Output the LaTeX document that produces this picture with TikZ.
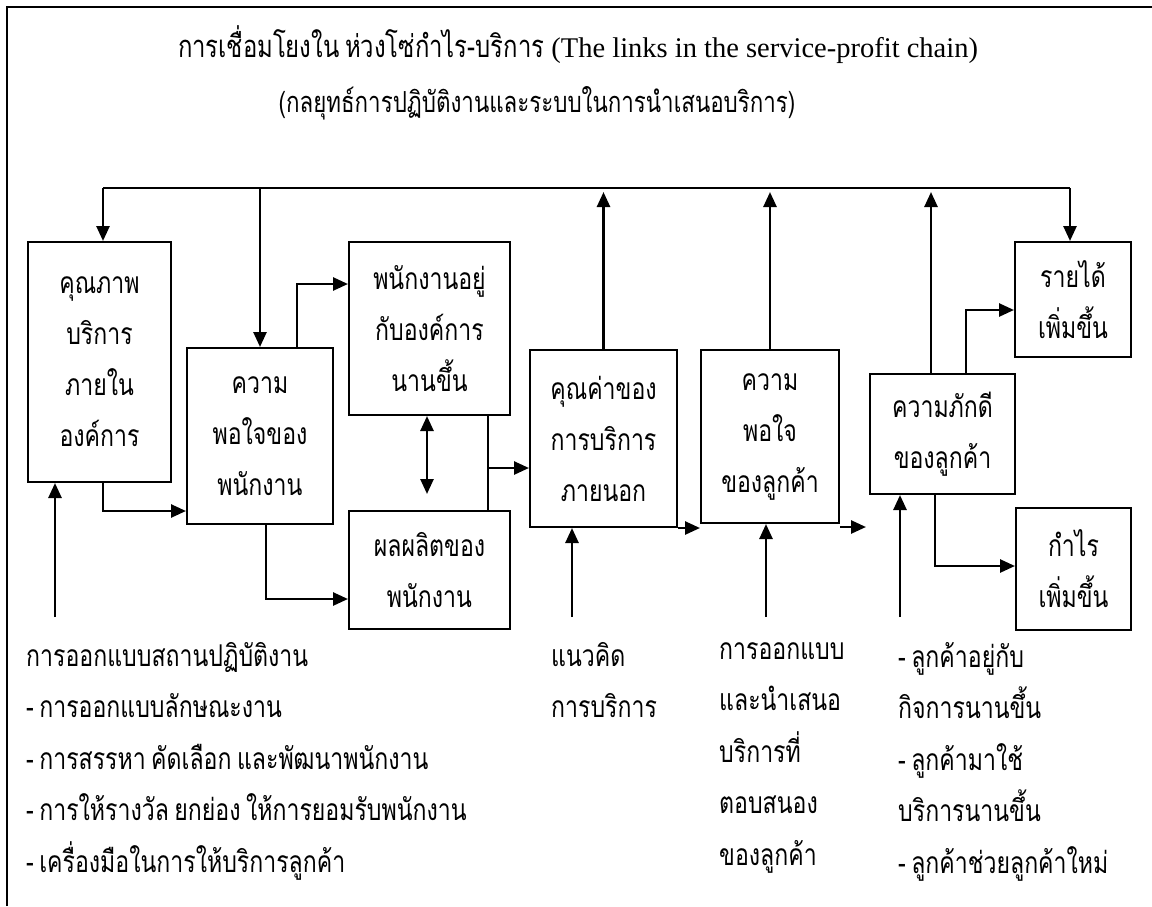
\documentclass[tikz,border=0pt]{standalone}
\usepackage{fontspec}
\setmainfont{Liberation Serif}
\newfontfamily\thaifont[Script=Thai,FakeStretch=0.77,WordSpace=0.7]{Loma}
\usetikzlibrary{arrows.meta}

\begin{document}
\begin{tikzpicture}[x=1pt,y=-1pt,>={Triangle[length=15pt,width=13pt]},
                    every node/.style={inner sep=0pt},
                    box/.style={draw,line width=2pt,align=center,
                                font=\thaifont\fontsize{30}{51}\selectfont},
                    note/.style={anchor=north west,align=left,
                                 font=\thaifont\fontsize{30}{51.5}\selectfont},
                    arr/.style={->,line width=2.6pt}]
  \useasboundingbox (0,0) rectangle (1152,906);
  \draw[line width=2pt] (7,906) -- (7,7) -- (1152,7);
  % titles
  \node[font=\fontsize{28.5}{32}\selectfont] (title) at (578,45)
      {{\thaifont\fontsize{31}{32}\selectfont การเชื่อมโยงใน ห่วงโซ่กำไร-บริการ} (The links in the service-profit chain)};
  \node[font=\thaifont\fontsize{29}{32}\selectfont] (sub) at (537,103)
      {(กลยุทธ์การปฏิบัติงานและระบบในการนำเสนอบริการ)};
  % boxes
  \node[box,minimum width=143pt,minimum height=240pt] (q) at (99.5,362) {คุณภาพ\\บริการ\\ภายใน\\องค์การ};
  \node[box,minimum width=146pt,minimum height=176pt] (es) at (260,436) {ความ\\พอใจของ\\พนักงาน};
  \node[box,minimum width=161pt,minimum height=173pt] (ret) at (429.5,328.5) {พนักงานอยู่\\กับองค์การ\\นานขึ้น};
  \node[box,minimum width=161pt,minimum height=118pt] (prod) at (429.5,570) {ผลผลิตของ\\พนักงาน};
  \node[box,minimum width=147pt,minimum height=177pt] (val) at (603.5,438.5) {คุณค่าของ\\การบริการ\\ภายนอก};
  \node[box,minimum width=138pt,minimum height=173pt] (cs) at (770,436.5) {ความ\\พอใจ\\ของลูกค้า};
  \node[box,minimum width=145pt,minimum height=120pt] (loy) at (942.5,434) {ความภักดี\\ของลูกค้า};
  \node[box,minimum width=116pt,minimum height=115pt] (rev) at (1073,299.5) {รายได้\\เพิ่มขึ้น};
  \node[box,minimum width=115pt,minimum height=122pt] (prof) at (1073.5,569) {กำไร\\เพิ่มขึ้น};
  % feedback line on top
  \coordinate (tl) at (103,188);
  \coordinate (tr) at (1070,188);
  \draw[line width=2.6pt] (tl) -- (tr);
  \draw[arr] (tl) -- (tl |- q.north);
  \draw[arr] (es.north |- tl) -- (es.north);
  \draw[arr,shorten >=4pt] (val.north) -- (val.north |- tl);
  \draw[arr,shorten >=4pt] (cs.north) -- (cs.north |- tl);
  \draw[arr,shorten >=4pt] ([xshift=-11.5pt]loy.north) -- ([xshift=-11.5pt]loy.north |- tl);
  \draw[arr] (tr) -- (tr |- rev.north);
  % links between boxes
  \draw[arr] (q.south -| tl) |- ([yshift=-75pt]es.west);
  \draw[arr] ([xshift=37pt]es.north) |- ([yshift=44.5pt]ret.west);
  \draw[arr] ([xshift=6pt]es.south) |- ([yshift=-29pt]prod.west);
  \draw[<->,line width=2.6pt] ([xshift=-2.5pt]ret.south) -- ([xshift=-2.5pt,yshift=16pt]prod.north);
  \draw[line width=1.5pt] ([xshift=-23pt]ret.south east) -- ([xshift=-23pt]prod.north east);
  \coordinate (mid) at (489,468);
  \draw[arr] (mid) -- (val.west |- mid);
  \draw[arr] (val.south east) -- (cs.west |- val.south east);
  \coordinate (ce) at (866,527);
  \draw[arr] (cs.south east |- ce) -- (ce);
  \draw[arr] ([xshift=23.5pt]loy.north) |- ([yshift=-10.5pt]rev.west);
  \draw[arr] ([xshift=-7.5pt]loy.south) |- ([yshift=3pt]prof.west);
  % inputs from below
  \coordinate (b1) at (55,617);
  \coordinate (b2) at (572,617);
  \coordinate (b3) at (766,617);
  \coordinate (b4) at (900,617);
  \draw[arr] (b1) -- (b1 |- q.south);
  \draw[arr] (b2) -- (b2 |- val.south);
  \draw[arr] (b3) -- (b3 |- cs.south);
  \draw[arr] (b4) -- (b4 |- loy.south);
  % notes
  \node[note] (n1) at (26,642) {การออกแบบสถานปฏิบัติงาน\\- การออกแบบลักษณะงาน\\- การสรรหา คัดเลือก และพัฒนาพนักงาน\\- การให้รางวัล ยกย่อง ให้การยอมรับพนักงาน\\- เครื่องมือในการให้บริการลูกค้า};
  \node[note] (n2) at (551,642) {แนวคิด\\การบริการ};
  \node[note] (n3) at (719,642) {การออกแบบ\\และนำเสนอ\\บริการที่\\ตอบสนอง\\ของลูกค้า};
  \node[note] (n4) at (898,642) {- ลูกค้าอยู่กับ\\กิจการนานขึ้น\\- ลูกค้ามาใช้\\บริการนานขึ้น\\- ลูกค้าช่วยลูกค้าใหม่};
\end{tikzpicture}
\end{document}
